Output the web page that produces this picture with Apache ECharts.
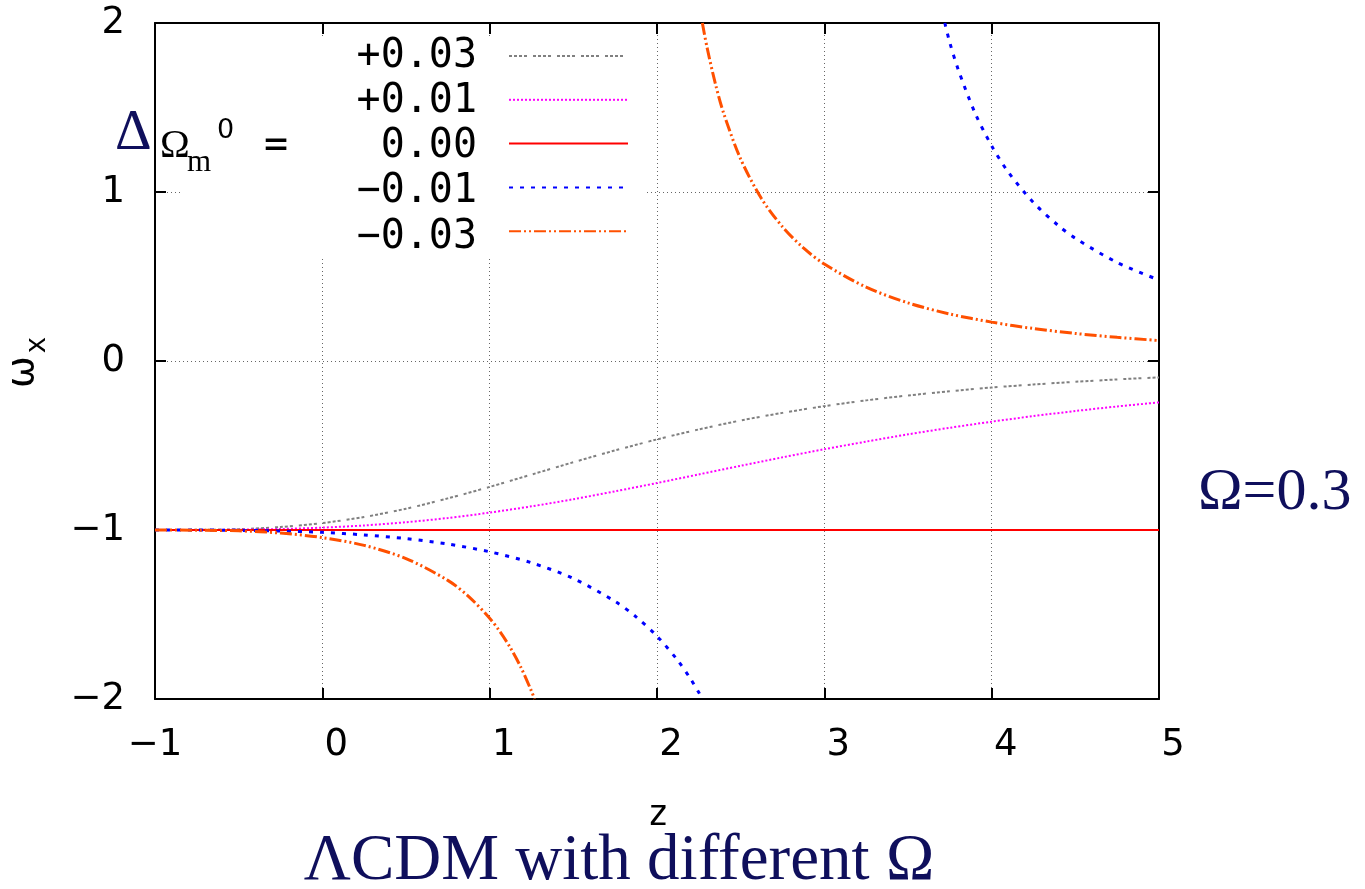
<!DOCTYPE html>
<html>
<head>
<meta charset="utf-8">
<script src="https://cdn.jsdelivr.net/npm/echarts@6/dist/echarts.min.js"></script>
<style>
html,body{margin:0;padding:0;background:#fff;}
#chart{width:1365px;height:889px;}
</style>
</head>
<body>
<div id="chart"></div>
<script>
// ---- data ----
var seriesNames = ['+0.03', '+0.01', ' 0.00', '\u22120.01', '\u22120.03'];
var xTicks = [-1, 0, 1, 2, 3, 4, 5];
var yTicks = [-2, -1, 0, 1, 2];

var zGrid = [-1,-0.75,-0.5,-0.25,0,0.25,0.5,0.75,1,1.25,1.5,1.75,2,2.25,2.5,2.75,3,3.25,3.5,3.75,4,4.25,4.5,4.75,5];
var wPlus003 = [-1,-0.999,-0.995,-0.982,-0.959,-0.923,-0.874,-0.813,-0.745,-0.672,-0.599,-0.529,-0.464,-0.405,-0.352,-0.307,-0.267,-0.233,-0.204,-0.179,-0.157,-0.139,-0.123,-0.109,-0.097];
var wPlus001 = [-1,-1.000,-0.998,-0.994,-0.986,-0.973,-0.954,-0.929,-0.897,-0.860,-0.818,-0.771,-0.722,-0.671,-0.620,-0.570,-0.522,-0.477,-0.434,-0.395,-0.359,-0.326,-0.296,-0.269,-0.245];

var zZero = [-1, 5];
var wZero = [-1, -1];

var zMinus001Low = [-1,-0.75,-0.5,-0.25,0,0.25,0.5,0.75,1,1.25,1.5,1.75,1.875,2,2.125,2.2,2.25,2.271];
var wMinus001Low = [-1,-1.000,-1.002,-1.006,-1.014,-1.029,-1.051,-1.083,-1.129,-1.194,-1.287,-1.423,-1.514,-1.628,-1.773,-1.880,-1.962,-2.0];
var zMinus001High = [3.72,3.75,3.8,3.9,4,4.1,4.25,4.4,4.5,4.75,5];
var wMinus001High = [2.0,1.883,1.725,1.469,1.273,1.117,0.937,0.800,0.726,0.583,0.479];

var zMinus003Low = [-1,-0.75,-0.5,-0.25,0,0.25,0.5,0.75,0.875,1,1.0625,1.125,1.1875,1.25,1.268];
var wMinus003Low = [-1,-1.001,-1.005,-1.018,-1.045,-1.091,-1.169,-1.298,-1.394,-1.522,-1.603,-1.699,-1.814,-1.954,-2.0];
var zMinus003High = [2.271,2.3,2.35,2.4,2.5,2.625,2.75,2.875,3,3.25,3.5,3.75,4,4.25,4.5,4.75,5];
var wMinus003High = [2.0,1.851,1.636,1.461,1.195,0.960,0.794,0.669,0.574,0.437,0.344,0.278,0.230,0.192,0.163,0.140,0.121];

// ---- build ----
function pairs(zs, ws){ return zs.map(function(z,i){ return [z, ws[i]]; }); }
function withGap(a, b){ return a.concat([[ (a[a.length-1][0]+b[0][0])/2, '-' ]]).concat(b); }

var NAVY = '#0f0f5c';
var colors = ['#808080', '#ff00ff', '#ff0000', '#0000ff', '#ff5000'];
var dashes = [[3,2,3,2,3,2,3,6], [2,2], 'solid', [4,7], [12,3,2,3,2,3]];
var widths = [2, 2, 2, 3, 3];
var datas = [
  pairs(zGrid, wPlus003),
  pairs(zGrid, wPlus001),
  pairs(zZero, wZero),
  withGap(pairs(zMinus001Low, wMinus001Low), pairs(zMinus001High, wMinus001High)),
  withGap(pairs(zMinus003Low, wMinus003Low), pairs(zMinus003High, wMinus003High))
];

function minus(v){ return String(v).replace('-', '\u2212'); }

var chart = echarts.init(document.getElementById('chart'), null, {renderer:'canvas'});

var axisLineStyle = {show:true, onZero:false, lineStyle:{color:'#000', width:2}};
var tickStyle = {show:true, inside:true, length:11, lineStyle:{color:'#000', width:2}};

var series = seriesNames.map(function(n, i){
  return {
    name: n, type: 'line', data: datas[i],
    xAxisIndex: 0, yAxisIndex: 0,
    symbol: 'none', showSymbol: false,
    smooth: i === 2 ? false : 0.3,
    connectNulls: false,
    clip: true,
    lineStyle: {color: colors[i], width: widths[i], type: dashes[i]},
    itemStyle: {color: colors[i]},
    z: 2 + i * 0.01,
    animation: false
  };
});

var legendYs = [56, 101, 146, 191, 237];
var graphics = [
  {type:'rect', shape:{x:183, y:36, width:462, height:222}, style:{fill:'#fff'}, z:1, silent:true},
  // left label Delta Omega_m^0 =
  {type:'text', x:115, y:134, z:5, style:{text:'\u0394', font:'57px "Liberation Serif"', fill:NAVY, textAlign:'left', textVerticalAlign:'middle'}},
  {type:'text', x:160, y:146, z:5, style:{text:'\u03A9', font:'40px "Liberation Serif"', fill:'#000', textAlign:'left', textVerticalAlign:'middle'}},
  {type:'text', x:187, y:163, z:5, style:{text:'m', font:'31px "Liberation Serif"', fill:'#000', textAlign:'left', textVerticalAlign:'middle'}},
  {type:'text', x:217, y:131, z:5, style:{text:'0', font:'27px "DejaVu Sans"', fill:'#000', textAlign:'left', textVerticalAlign:'middle'}},
  {type:'text', x:264, y:147, z:5, style:{text:'=', font:'40px "DejaVu Sans Mono"', fill:'#000', textAlign:'left', textVerticalAlign:'middle'}},
  // right annotation
  {type:'text', x:1198, y:493, z:5, style:{text:'\u03A9=0.3', font:'60px "Liberation Serif"', fill:NAVY, textAlign:'left', textVerticalAlign:'middle'}},
  // bottom caption
  {type:'text', x:619, y:862, z:5, style:{text:'\u039BCDM with different \u03A9', font:'65px "Liberation Serif"', fill:NAVY, textAlign:'center', textVerticalAlign:'middle'}},
  // axis names
  {type:'text', x:658, y:816, z:5, style:{text:'z', font:'36px "DejaVu Sans Mono"', fill:'#000', textAlign:'center', textVerticalAlign:'middle'}},
  {type:'text', x:23, y:372, rotation:Math.PI/2, z:5, style:{text:'\u03C9', font:'38px "DejaVu Sans"', fill:'#000', textAlign:'center', textVerticalAlign:'middle'}},
  {type:'text', x:38, y:345, rotation:Math.PI/2, z:5, style:{text:'x', font:'28px "DejaVu Sans Mono"', fill:'#000', textAlign:'center', textVerticalAlign:'middle'}}
];
seriesNames.forEach(function(n, i){
  graphics.push({type:'text', x:477, y:legendYs[i]+1, z:5,
    style:{text:n.trim(), font:'40px "DejaVu Sans Mono"', fill:'#000', textAlign:'right', textVerticalAlign:'middle'}});
});

var option = {
  backgroundColor:'#fff',
  animation:false,
  grid:{left:155, right:206, top:23, bottom:190, show:false},
  legend:{
    orient:'vertical', left:503, top:44, padding:5,
    itemWidth:119, itemHeight:14, itemGap:31.2,
    data: seriesNames,
    formatter: function(){ return ''; },
    textStyle:{fontSize:10},
    itemStyle:{color:'rgba(0,0,0,0)', borderColor:'rgba(0,0,0,0)', borderWidth:0},
    selectedMode:false
  },
  xAxis:[
    {type:'value', min:xTicks[0], max:xTicks[xTicks.length-1], interval:1, position:'bottom',
     axisLine:axisLineStyle, axisTick:tickStyle,
     splitLine:{show:true, lineStyle:{color:'#666', width:1, type:[1,3]}},
     axisLabel:{margin:28, fontFamily:'DejaVu Sans', fontSize:37, color:'#000',
       formatter:function(v){ return v < 0 ? '{a|' + minus(v) + '}' : '{b|' + v + '}'; },
       rich:{a:{fontFamily:'DejaVu Sans', fontSize:37, color:'#000'},
             b:{fontFamily:'DejaVu Sans', fontSize:37, color:'#000', padding:[0,0,0,28]}}}},
    {type:'value', min:xTicks[0], max:xTicks[xTicks.length-1], interval:1, position:'top',
     axisLine:axisLineStyle, axisTick:tickStyle, splitLine:{show:false}, axisLabel:{show:false}}
  ],
  yAxis:[
    {type:'value', min:yTicks[0], max:yTicks[yTicks.length-1], interval:1, position:'left',
     axisLine:axisLineStyle, axisTick:tickStyle,
     splitLine:{show:true, lineStyle:{color:'#666', width:1, type:[1,3]}},
     axisLabel:{margin:30, fontFamily:'DejaVu Sans', fontSize:37, color:'#000', formatter:function(v){ return minus(v); }}},
    {type:'value', min:yTicks[0], max:yTicks[yTicks.length-1], interval:1, position:'right',
     axisLine:axisLineStyle, axisTick:tickStyle, splitLine:{show:false}, axisLabel:{show:false}}
  ],
  graphic: graphics,
  series: series
};
chart.setOption(option);
</script>
</body>
</html>
